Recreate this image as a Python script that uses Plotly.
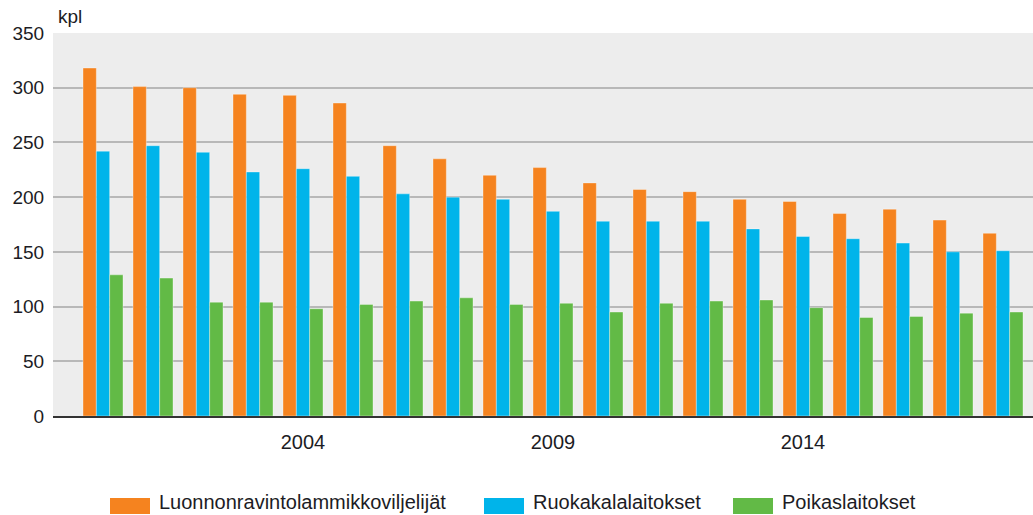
import plotly.graph_objects as go

# Annual counts of fish farming operators (kpl)
years = list(range(2000, 2019))
luonnonravinto = [318, 301, 300, 294, 293, 286, 247, 235, 220, 227, 213, 207, 205, 198, 196, 185, 189, 179, 167]
ruokakala = [242, 247, 241, 223, 226, 219, 203, 200, 198, 187, 178, 178, 178, 171, 164, 162, 158, 150, 151]
poikas = [129, 126, 104, 104, 98, 102, 105, 108, 102, 103, 95, 103, 105, 106, 99, 90, 91, 94, 95]

series_names = ["Luonnonravintolammikkoviljelijät", "Ruokakalalaitokset", "Poikaslaitokset"]
series_values = [luonnonravinto, ruokakala, poikas]
colors = ["#F5831F", "#00B4EA", "#62BA46"]

tick_years = [2004, 2009, 2014]
y_ticks = [0, 50, 100, 150, 200, 250, 300, 350]

FONT = "Liberation Sans, Arial, sans-serif"
TEXT = "#1c1c24"

W, H = 1033, 515
M_L, M_R, M_T, M_B = 53, 0, 33, 99
plot_w = W - M_L - M_R
plot_h = H - M_T - M_B

fig = go.Figure()
for name, vals, col in zip(series_names, series_values, colors):
    fig.add_trace(go.Bar(
        x=years, y=vals, name=name,
        marker=dict(color=col, line=dict(color="rgba(255,255,255,0.35)", width=1)),
        showlegend=False,
    ))

# Legend drawn as wide swatches under the plot
def px_x(px):
    return (px - M_L) / plot_w

def px_y(py):
    return (H - M_B - py) / plot_h

legend_items = [(110, 150, 157), (484, 524, 531), (733, 773, 780)]
shapes = []
annotations = []
for (x0, x1, tx), name, col in zip(legend_items, series_names, colors):
    shapes.append(dict(type="rect", xref="paper", yref="paper",
                       x0=px_x(x0), x1=px_x(x1), y0=px_y(514), y1=px_y(498),
                       fillcolor=col, line=dict(width=0), layer="above"))
    annotations.append(dict(text=name, xref="paper", yref="paper",
                            x=px_x(tx), y=px_y(515), xanchor="left", yanchor="bottom",
                            showarrow=False, font=dict(family=FONT, size=20, color=TEXT)))

annotations.append(dict(text="kpl", xref="paper", yref="paper",
                        x=px_x(56), y=px_y(29), xanchor="left", yanchor="bottom",
                        showarrow=False, font=dict(family=FONT, size=19, color=TEXT)))

fig.update_layout(
    width=W, height=H,
    margin=dict(l=M_L, r=M_R, t=M_T, b=M_B, pad=0),
    paper_bgcolor="white",
    plot_bgcolor="#EDEDED",
    barmode="group",
    bargap=0.2,
    bargroupgap=0,
    font=dict(family=FONT, size=19, color=TEXT),
    shapes=shapes,
    annotations=annotations,
    xaxis=dict(
        range=[1999, 2018.6],
        tickmode="array", tickvals=tick_years, ticktext=[str(y) for y in tick_years],
        showgrid=False, zeroline=False,
        showline=True, linecolor="#333333", linewidth=2,
        ticks="outside", ticklen=7, tickcolor="rgba(0,0,0,0)",
        tickfont=dict(family=FONT, size=20, color=TEXT),
    ),
    yaxis=dict(
        range=[0, 350],
        tickmode="array", tickvals=y_ticks,
        showgrid=True, gridcolor="#B8B8B8", gridwidth=1.5,
        zeroline=False, showline=False,
        ticks="outside", ticklen=4, tickcolor="rgba(0,0,0,0)",
        tickfont=dict(family=FONT, size=19, color=TEXT),
    ),
)

fig.write_html("out.html")
